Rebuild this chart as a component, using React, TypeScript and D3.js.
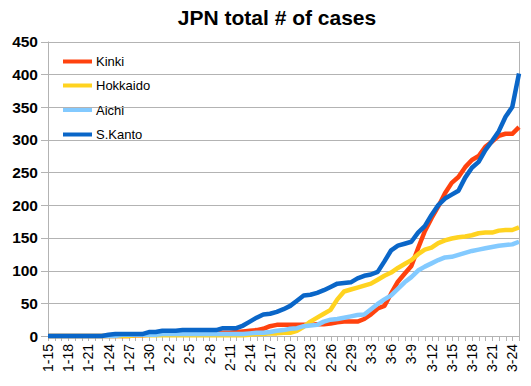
import React, { useEffect, useRef } from 'react';
import * as d3 from 'd3';

// dates 1-15 .. 3-25 (2020)
const dates: string[] = (() => {
  const out: string[] = [];
  const monthDays = [[1, 15, 31], [2, 1, 29], [3, 1, 25]];
  monthDays.forEach(([m, a, b]) => {
    for (let d = a; d <= b; d++) out.push(`${m}-${d}`);
  });
  return out;
})();

const kinki = [
  0, 0, 0, 0, 0, 0, 0, 0, 0, 0, 0, 0, 0, 1, 1, 2, 2, 3, 3, 3,
  4, 5, 5, 5, 5, 5, 5, 5, 6, 7, 8, 9, 11, 15, 17, 17, 17, 17, 17, 17,
  18, 18, 19, 21, 22, 22, 22, 26, 33, 42, 46, 65, 83, 95, 107, 134, 160, 180, 198, 218,
  234, 243, 258, 269, 275, 289, 297, 306, 309, 309, 319,
];
const hokkaido = [
  0, 0, 0, 0, 0, 0, 0, 0, 0, 0, 0, 0, 0, 1, 1, 1, 1, 1, 1, 1,
  1, 1, 1, 1, 1, 1, 1, 1, 1, 1, 2, 3, 3, 4, 4, 5, 5, 8, 14, 22,
  28, 34, 40, 56, 68, 71, 74, 77, 80, 86, 92, 97, 104, 110, 116, 125, 132, 135, 142, 146,
  149, 151, 152, 154, 157, 158, 158, 161, 162, 162, 166,
];
const aichi = [
  0, 0, 0, 0, 0, 0, 0, 0, 0, 0, 0, 2, 2, 2, 2, 2, 2, 3, 3, 3,
  3, 3, 3, 3, 3, 3, 3, 3, 3, 3, 4, 5, 5, 6, 8, 9, 11, 12, 15, 16,
  17, 22, 25, 26, 28, 30, 32, 33, 41, 49, 56, 62, 72, 82, 90, 100, 106, 111, 116, 120,
  121, 124, 127, 130, 132, 134, 136, 138, 139, 140, 144,
];
const sKanto = [
  0, 0, 0, 0, 0, 0, 0, 0, 0, 2, 3, 3, 3, 3, 3, 6, 6, 8, 8, 8,
  9, 9, 9, 9, 9, 9, 12, 12, 12, 16, 22, 28, 33, 34, 37, 41, 46, 54, 62, 63,
  66, 70, 75, 80, 81, 82, 88, 92, 94, 98, 114, 131, 138, 141, 144, 158, 168, 185, 200, 210,
  216, 222, 242, 257, 266, 284, 298, 313, 335, 350, 401,
];

const seriesNames = ['Kinki', 'Hokkaido', 'Aichi', 'S.Kanto'];
const seriesValues = [kinki, hokkaido, aichi, sKanto];
const seriesColors = ['#ff420e', '#ffd320', '#83caff', '#0a66c8'];
const yTicks = [0, 50, 100, 150, 200, 250, 300, 350, 400, 450];

const Chart = () => {
  const ref = useRef<SVGSVGElement>(null);

  useEffect(() => {
    const svg = d3.select(ref.current);
    svg.selectAll('*').remove();
    const font = '"Liberation Sans", Arial, sans-serif';
    const left = 48, right = 519, top = 41.5, bottom = 336;

    const x = d3.scaleLinear().domain([0, dates.length - 1]).range([left, right]);
    const y = d3.scaleLinear().domain([0, 450]).range([bottom, top]);

    svg.append('text')
      .attr('x', 277).attr('y', 25)
      .attr('text-anchor', 'middle')
      .style('font-family', font).style('font-size', '21px').style('font-weight', 'bold')
      .text('JPN total # of cases');

    // grid + y ticks
    const grid = svg.append('g');
    yTicks.forEach(t => {
      grid.append('line')
        .attr('x1', left - 7).attr('x2', right)
        .attr('y1', Math.round(y(t)) + 0.5).attr('y2', Math.round(y(t)) + 0.5)
        .attr('stroke', '#b3b3b3').attr('stroke-width', 1);
      grid.append('text')
        .attr('x', 38).attr('y', y(t)).attr('dy', '0.36em')
        .attr('text-anchor', 'end')
        .style('font-family', font).style('font-size', '15.5px').style('font-weight', 'bold')
        .text(t);
    });
    grid.append('line').attr('x1', left + 0.5).attr('x2', left + 0.5)
      .attr('y1', top).attr('y2', bottom + 5).attr('stroke', '#b3b3b3');
    grid.append('line').attr('x1', right + 0.5).attr('x2', right + 0.5)
      .attr('y1', top).attr('y2', bottom + 5).attr('stroke', '#b3b3b3');

    // x ticks and labels
    dates.forEach((d, i) => {
      const xi = Math.round(x(i)) + 0.5;
      grid.append('line').attr('x1', xi).attr('x2', xi)
        .attr('y1', bottom).attr('y2', bottom + 5).attr('stroke', '#b3b3b3');
      if (i % 3 === 0 && i < dates.length - 1) {
        grid.append('text')
          .attr('transform', `translate(${x(i)},${bottom + 8}) rotate(-90)`)
          .attr('dy', '0.36em')
          .attr('text-anchor', 'end')
          .style('font-family', font).style('font-size', '14px')
          .text(d);
      }
    });

    const line = d3.line<number>()
      .x((_, i) => x(i))
      .y(v => y(v));

    seriesValues.forEach((vals, k) => {
      svg.append('path')
        .datum(vals)
        .attr('fill', 'none')
        .attr('stroke', seriesColors[k])
        .attr('stroke-width', 4.5)
        .attr('stroke-linejoin', 'round')
        .attr('d', line);
    });

    // legend
    const legendY = [61.5, 85.5, 110, 134.5];
    seriesNames.forEach((name, k) => {
      svg.append('line')
        .attr('x1', 63).attr('x2', 92)
        .attr('y1', legendY[k]).attr('y2', legendY[k])
        .attr('stroke', seriesColors[k]).attr('stroke-width', 4);
      svg.append('text')
        .attr('x', 96).attr('y', legendY[k]).attr('dy', '0.36em')
        .style('font-family', font).style('font-size', '13px')
        .text(name);
    });
  }, []);

  return <svg ref={ref} width={531} height={386} style={{ display: 'block', background: '#fff' }} />;
};

export default function App() {
  return (
    <div style={{ position: 'absolute', left: 0, top: 0 }}>
      <Chart />
    </div>
  );
}
